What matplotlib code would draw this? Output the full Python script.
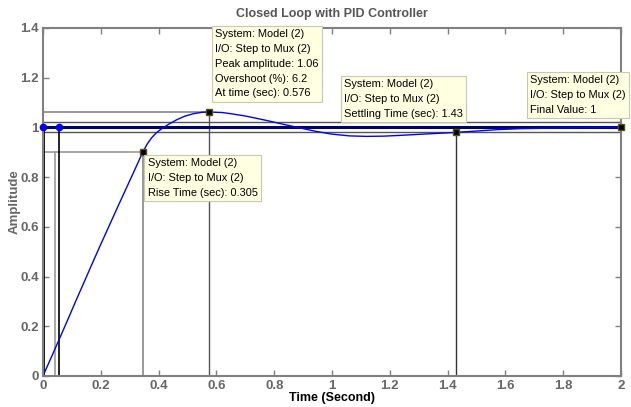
import matplotlib
matplotlib.use("Agg")
import matplotlib.pyplot as plt

# step response
t = [0, 0.04, 0.06, 0.09, 0.114, 0.145, 0.174, 0.2, 0.232, 0.26, 0.29, 0.32, 0.345,
     0.36, 0.375, 0.39, 0.405, 0.435, 0.463, 0.49, 0.52, 0.55, 0.576, 0.62, 0.657,
     0.70, 0.774, 0.83, 0.889, 0.945, 1.0, 1.06, 1.12, 1.18, 1.235, 1.33, 1.43,
     1.57, 1.65, 1.8, 2.0]
y = [0, 0.105, 0.158, 0.238, 0.303, 0.385, 0.462, 0.53, 0.612, 0.684, 0.76, 0.836, 0.90,
     0.932, 0.957, 0.976, 0.99, 1.013, 1.031, 1.045, 1.055, 1.061, 1.062, 1.060, 1.054,
     1.046, 1.028, 1.013, 0.998, 0.984, 0.973, 0.966, 0.964, 0.965, 0.968, 0.974, 0.98,
     0.991, 0.995, 0.998, 1.0]

t_rise_start, t_rise_end = 0.04, 0.345
t_peak, y_peak = 0.576, 1.062
t_settle, y_settle = 1.43, 0.98
t_final, y_final = 2.0, 1.0
t_step2 = 0.057

peak_txt = "System: Model (2)\nI/O: Step to Mux (2)\nPeak amplitude: 1.06\nOvershoot (%): 6.2\nAt time (sec): 0.576"
rise_txt = "System: Model (2)\nI/O: Step to Mux (2)\nRise Time (sec): 0.305"
settle_txt = "System: Model (2)\nI/O: Step to Mux (2)\nSettling Time (sec): 1.43"
final_txt = "System: Model (2)\nI/O: Step to Mux (2)\nFinal Value: 1"

plt.rcParams['font.family'] = ['Liberation Sans Narrow', 'Liberation Sans', 'DejaVu Sans']

fig = plt.figure(figsize=(6.31, 4.07), dpi=100)
ax = fig.add_axes([43 / 631, 31 / 407, 578 / 631, 348 / 407])

gray = '#808080'
# characteristic lines
ax.plot([0, t_rise_end], [0.9, 0.9], color='#999999', lw=1.2)
ax.plot([t_rise_start, t_rise_start], [0, 0.9], color='#999999', lw=1.2)
ax.plot([t_rise_end, t_rise_end], [0, 0.9], color='#888888', lw=1.2)
ax.plot([0, t_peak], [y_peak, y_peak], color='#888888', lw=1.2)
ax.plot([t_peak, t_peak], [0, y_peak], color='#555555', lw=1.0)
ax.plot([0, 2], [1.02, 1.02], color='#555555', lw=1.0)
ax.plot([0, 2], [0.98, 0.98], color='#555555', lw=1.0)
ax.plot([t_settle, t_settle], [0, y_settle], color='#333333', lw=1.0)
ax.plot([0, 2], [1.0, 1.0], color='#000066', lw=2.2)
ax.plot([0, 0], [0, 1], color='black', lw=2)
ax.plot([t_step2, t_step2], [0, 1], color='black', lw=1.2)

ax.plot(t, y, color='blue', lw=1)

ax.plot([0, t_step2], [1, 1], 'o', color='blue', ms=4.5, clip_on=False, zorder=5)
ax.plot([t_rise_end, t_peak, t_settle, t_final], [0.9, y_peak, y_settle, y_final],
        's', color='black', mec='#555500', ms=4, clip_on=False, zorder=5)

box = dict(boxstyle='square,pad=0.3', fc='#ffffe1', ec='#c8c8b0', lw=0.8)
kw = dict(fontsize=7.9, va='top', ha='left', linespacing=1.6, bbox=box, clip_on=False, zorder=6)
ax.text(0.596, 1.395, peak_txt, **kw)
ax.text(0.362, 0.876, rise_txt, **kw)
ax.text(1.042, 1.195, settle_txt, **kw)
ax.text(1.685, 1.21, final_txt, **kw)

ax.set_xlim(0, 2)
ax.set_ylim(0, 1.4)
ax.set_xticks([0, 0.2, 0.4, 0.6, 0.8, 1, 1.2, 1.4, 1.6, 1.8, 2])
ax.set_xticklabels(['0', '0.2', '0.4', '0.6', '0.8', '1', '1.2', '1.4', '1.6', '1.8', '2'])
ax.set_yticks([0, 0.2, 0.4, 0.6, 0.8, 1, 1.2, 1.4])
ax.set_yticklabels(['0', '0.2', '0.4', '0.6', '0.8', '1', '1.2', '1.4'])
ax.tick_params(direction='in', length=4, width=1, color=gray, labelcolor='#666666',
               top=True, right=True, labelsize=9.5, pad=3)
for lab in ax.get_xticklabels() + ax.get_yticklabels():
    lab.set_fontweight('bold')
for s in ax.spines.values():
    s.set_color(gray)
    s.set_linewidth(1.5)

ax.set_title('Closed Loop with PID Controller', fontsize=9, fontweight='bold', color='#555555', pad=8)
ax.set_xlabel('Time (Second)', fontsize=9, fontweight='bold', color='black', labelpad=0)
ax.set_ylabel('Amplitude', fontsize=9.5, fontweight='bold', color='#666666', labelpad=0)

fig.savefig('out.png', dpi=100)
